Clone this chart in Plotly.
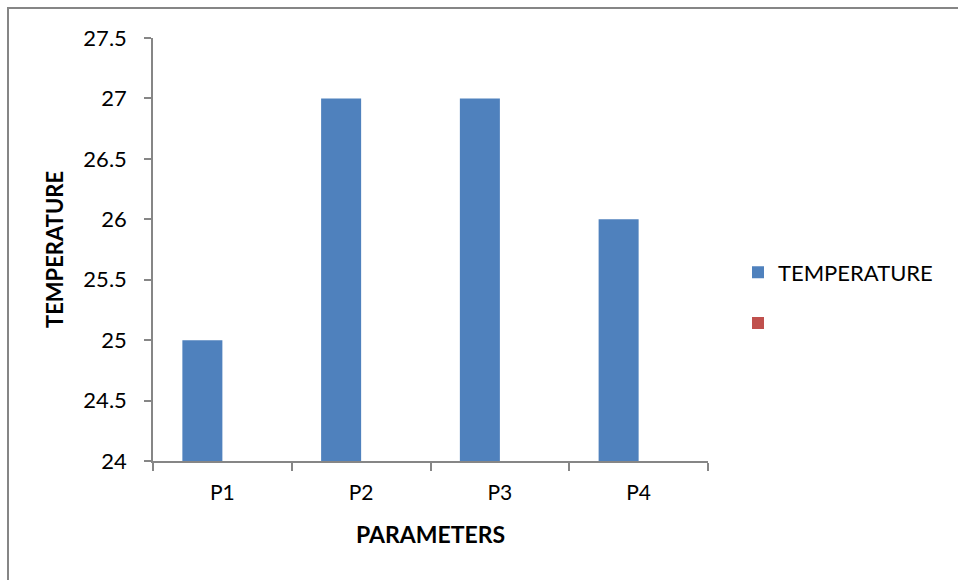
import plotly.graph_objects as go

# Data
categories = ["P1", "P2", "P3", "P4"]
temperature = [25, 27, 27, 26]
second_series = [None, None, None, None]
y_ticks = [24, 24.5, 25, 25.5, 26, 26.5, 27, 27.5]
y_tick_labels = ["24", "24.5", "25", "25.5", "26", "26.5", "27", "27.5"]

FONT = "Lato, Calibri, sans-serif"
AXIS_GREY = "#868686"

W, H = 958, 580
L, R, T, B = 153, 250, 38, 119
plot_w = W - L - R
plot_h = H - T - B

fig = go.Figure()
fig.add_trace(go.Bar(
    x=categories, y=temperature, name="TEMPERATURE",
    marker=dict(color="#4F81BD", line=dict(width=0)),
    legendgroup="a",
))
fig.add_trace(go.Bar(
    x=categories, y=second_series, name=" ",
    marker=dict(color="#C0504D", line=dict(width=0)),
    legendgroup="b", showlegend=True,
))

# outer chart border (left and top edges sit inside the page)
bx0 = (8 - L) / plot_w
by1 = 1 + (T - 8) / plot_h
fig.add_shape(type="rect", xref="paper", yref="paper",
              x0=bx0, x1=2, y0=-1, y1=by1,
              line=dict(color=AXIS_GREY, width=2), layer="below")

fig.update_layout(
    width=W, height=H,
    margin=dict(l=L, r=R, t=T, b=B, pad=0),
    paper_bgcolor="white", plot_bgcolor="white",
    barmode="group", bargap=0.4234, bargroupgap=0,
    font=dict(family=FONT, color="black", size=20),
    legend=dict(
        x=(738 - L) / plot_w, y=(461 - 298) / plot_h,
        xanchor="left", yanchor="middle",
        font=dict(family=FONT, size=22, color="black"),
        traceorder="grouped", tracegroupgap=19,
        bgcolor="rgba(0,0,0,0)",
    ),
    xaxis=dict(
        showline=True, linecolor=AXIS_GREY, linewidth=1.5,
        ticks="outside", tickson="boundaries", ticklen=8, tickcolor=AXIS_GREY,
        tickwidth=1.5, showgrid=False,
        tickfont=dict(family=FONT, size=21, color="black"),
        ticklabelstandoff=12,
        title=dict(text="<b>PARAMETERS</b>", standoff=24,
                   font=dict(family=FONT, size=23, color="black")),
    ),
    yaxis=dict(
        range=[24, 27.5], tickvals=y_ticks, ticktext=y_tick_labels,
        showline=True, linecolor=AXIS_GREY, linewidth=1.5,
        ticks="outside", ticklen=7, tickcolor=AXIS_GREY, tickwidth=1.5,
        showgrid=False, zeroline=False,
        tickfont=dict(family=FONT, size=22, color="black"),
        ticklabelstandoff=13,
        title=dict(text="<b>TEMPERATURE</b>", standoff=14,
                   font=dict(family=FONT, size=22, color="black")),
    ),
)

fig.write_html("out.html")
